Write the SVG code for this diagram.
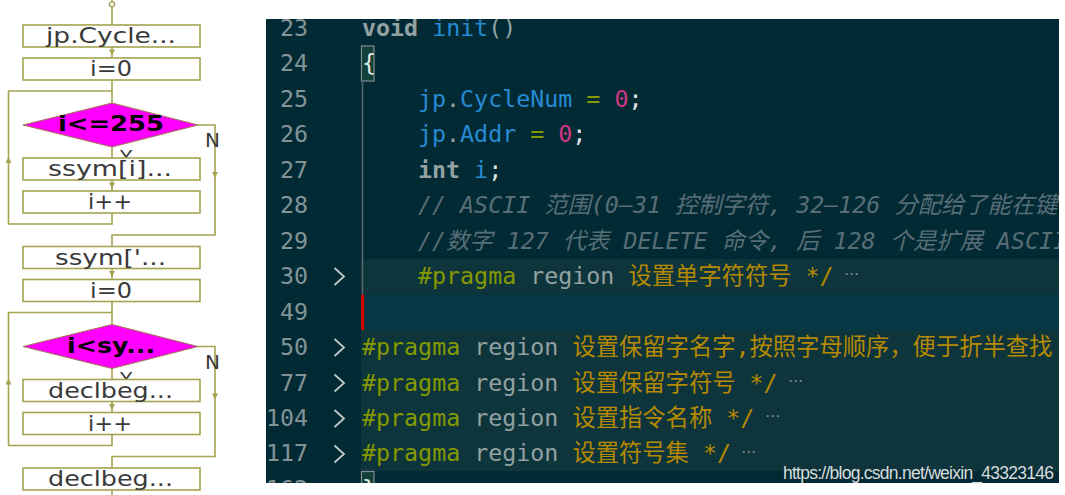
<svg xmlns="http://www.w3.org/2000/svg" width="1065" height="495" viewBox="0 0 1065 495">
<style>
.ln{fill:none;stroke:#a3a352;stroke-width:1.6}
.ah{fill:#a3a352}
.bx{fill:#fff;stroke:#a3a352;stroke-width:1.6}
.dm{fill:#ff00ff;stroke:#a07850;stroke-width:1}
.bt{font-family:"DejaVu Sans",sans-serif;font-size:21px;fill:#3a3a3a;text-anchor:middle}
.dt{font-family:"DejaVu Sans",sans-serif;font-size:22px;font-weight:bold;fill:#000;text-anchor:middle}
.yn{font-family:"DejaVu Sans",sans-serif;font-size:20px;fill:#3a3a3a}
.code{font-family:"DejaVu Sans Mono","Noto Sans CJK SC",monospace;font-size:23.3px;fill:#93a1a1}
.num{font-family:"DejaVu Sans Mono",monospace;font-size:23.3px;fill:#839496;text-anchor:end}
.cm{fill:#586e75;font-style:italic}
.kw{font-weight:bold;fill:#93a1a1}
.id{fill:#268bd2}
.op{fill:#859900}
.nm{fill:#d33682}
.pr{fill:#859900}
.st{fill:#b58900}
.fold{font-family:"DejaVu Sans",sans-serif;font-size:15px;fill:#8a9a9a;text-anchor:middle}
.chev{fill:none;stroke:#c0c8c8;stroke-width:1.8}
</style>
<defs>
<path id="ahd" d="M-3,-3 L3,-3 L0,3 Z"/>
<path id="ahu" d="M-3,3 L3,3 L0,-3 Z"/>
<clipPath id="ed"><rect x="266" y="19" width="793" height="464"/></clipPath>
</defs>
<rect width="1065" height="495" fill="#fff"/>

<!-- flowchart connectors -->
<g id="connectors">
<path class="ln" d="M112,0 V2"/>
<path class="ln" d="M112,6.5 V25"/>
<path class="ln" d="M112,47 V58"/>
<path class="ln" d="M112,80 V103"/>
<path class="ln" d="M112,147 V158"/>
<path class="ln" d="M112,180 V191"/>
<path class="ln" d="M112,213 V224 H8.5 V91 H112"/>
<path class="ln" d="M198,125 H215 V235 H112 V246.5"/>
<path class="ln" d="M112,268.5 V279.5"/>
<path class="ln" d="M112,301.5 V324.5"/>
<path class="ln" d="M112,368.5 V379.5"/>
<path class="ln" d="M112,401.5 V412.5"/>
<path class="ln" d="M112,434.5 V445.5 H8.5 V312.5 H112"/>
<path class="ln" d="M198,346.5 H215 V456.5 H112 V468"/>
<path class="ln" d="M112,490 V495"/>
<use href="#ahd" class="ah" x="112" y="52.5"/>
<use href="#ahd" class="ah" x="112" y="185.5"/>
<use href="#ahu" class="ah" x="8.5" y="160"/>
<use href="#ahd" class="ah" x="215" y="175"/>
<use href="#ahd" class="ah" x="112" y="274"/>
<use href="#ahd" class="ah" x="112" y="407"/>
<use href="#ahu" class="ah" x="8.5" y="381.5"/>
<use href="#ahd" class="ah" x="215" y="396.5"/>
<text class="yn" x="120" y="164" font-size="17">Y</text>
<text class="yn" x="205" y="147">N</text>
<text class="yn" x="120" y="385.5" font-size="17">Y</text>
<text class="yn" x="205" y="368.5">N</text>
</g>

<g id="start"><circle cx="112" cy="4.2" r="2.6" fill="#fff" stroke="#a3a352" stroke-width="1.3"/></g>
<g id="n1"><rect class="bx" x="23" y="25" width="177" height="22"/><text class="bt" x="111" y="43" textLength="130" lengthAdjust="spacingAndGlyphs">jp.Cycle...</text></g>
<g id="n2"><rect class="bx" x="23" y="58" width="177" height="22"/><text class="bt" x="111" y="76" textLength="42" lengthAdjust="spacingAndGlyphs">i=0</text></g>
<g id="d1"><polygon class="dm" points="23,125 112,103 198,125 112,147"/><text class="dt" x="111" y="131" textLength="106" lengthAdjust="spacingAndGlyphs">i&lt;=255</text></g>
<g id="n3"><rect class="bx" x="23" y="158" width="177" height="22"/><text class="bt" x="110" y="176" textLength="124" lengthAdjust="spacingAndGlyphs">ssym[i]...</text></g>
<g id="n4"><rect class="bx" x="23" y="191" width="177" height="22"/><text class="bt" x="110" y="209" textLength="44" lengthAdjust="spacingAndGlyphs">i++</text></g>
<g id="n5"><rect class="bx" x="23" y="246.5" width="177" height="22"/><text class="bt" x="110.5" y="264.5" textLength="111" lengthAdjust="spacingAndGlyphs">ssym['...</text></g>
<g id="n6"><rect class="bx" x="23" y="279.5" width="177" height="22"/><text class="bt" x="111" y="297.5" textLength="42" lengthAdjust="spacingAndGlyphs">i=0</text></g>
<g id="d2"><polygon class="dm" points="23,346.5 112,324.5 198,346.5 112,368.5"/><text class="dt" x="111" y="352.5" textLength="88" lengthAdjust="spacingAndGlyphs">i&lt;sy...</text></g>
<g id="n7"><rect class="bx" x="23" y="379.5" width="177" height="22"/><text class="bt" x="110.5" y="397.5" textLength="125" lengthAdjust="spacingAndGlyphs">declbeg...</text></g>
<g id="n8"><rect class="bx" x="23" y="412.5" width="177" height="22"/><text class="bt" x="110" y="430.5" textLength="44" lengthAdjust="spacingAndGlyphs">i++</text></g>
<g id="n9"><rect class="bx" x="23" y="468" width="177" height="22"/><text class="bt" x="110.5" y="486" textLength="125" lengthAdjust="spacingAndGlyphs">declbeg...</text></g>

<!-- code editor screenshot -->
<g id="editor" clip-path="url(#ed)">
<rect x="266" y="19" width="793" height="464" fill="#022a35"/>
<rect x="361" y="259.2" width="698" height="35.4" fill="#0e353c"/>
<rect x="361" y="294.6" width="698" height="35.4" fill="#053745"/>
<rect x="361" y="330" width="698" height="141" fill="#0e353c"/>
<rect x="361" y="294.6" width="3.2" height="35.4" fill="#d40000"/>
<line x1="362.5" y1="82" x2="362.5" y2="294.6" stroke="#5a6a6a" stroke-width="1.5"/>
<rect x="361.5" y="46" width="12.5" height="35" fill="#123f3a" stroke="#7f8f8f" stroke-width="1.2"/>
<rect x="361.5" y="471.5" width="12.5" height="35" fill="#123f3a" stroke="#7f8f8f" stroke-width="1.2"/>

<g class="num">
<text x="308" y="36">23</text>
<text x="308" y="71.45">24</text>
<text x="308" y="106.9">25</text>
<text x="308" y="142.35">26</text>
<text x="308" y="177.8">27</text>
<text x="308" y="213.25">28</text>
<text x="308" y="248.7">29</text>
<text x="308" y="284.15">30</text>
<text x="308" y="319.6">49</text>
<text x="308" y="355.05">50</text>
<text x="308" y="390.5">77</text>
<text x="308" y="425.95">104</text>
<text x="308" y="461.4">117</text>
<text x="308" y="496.85">162</text>
</g>

<path class="chev" d="M334.5,268 L344,276.5 L334.5,285"/>
<path class="chev" d="M334.5,339 L344,347.5 L334.5,356"/>
<path class="chev" d="M334.5,374.5 L344,383 L334.5,391.5"/>
<path class="chev" d="M334.5,410 L344,418.5 L334.5,427"/>
<path class="chev" d="M334.5,445.5 L344,454 L334.5,462.5"/>

<g class="code" xml:space="preserve">
<text x="362" y="36"><tspan class="kw">void</tspan> <tspan class="id">init</tspan>()</text>
<text x="362" y="71.45" fill="#dfe5e5">{</text>
<text x="418" y="106.9"><tspan class="id">jp</tspan>.<tspan class="id">CycleNum</tspan> <tspan class="op">=</tspan> <tspan class="nm">0</tspan><tspan fill="#dfe5e5">;</tspan></text>
<text x="418" y="142.35"><tspan class="id">jp</tspan>.<tspan class="id">Addr</tspan> <tspan class="op">=</tspan> <tspan class="nm">0</tspan><tspan fill="#dfe5e5">;</tspan></text>
<text x="418" y="177.8"><tspan class="kw">int</tspan> <tspan class="id">i</tspan><tspan fill="#dfe5e5">;</tspan></text>
<text x="418" y="213.25" class="cm">// ASCII 范围(0–31 控制字符, 32–126 分配给了能在键</text>
<text x="418" y="248.7" class="cm">//数字 127 代表 DELETE 命令, 后 128 个是扩展 ASCII</text>
<text x="418" y="284.15"><tspan class="pr">#pragma</tspan> region <tspan class="st">设置单字符符号 */</tspan></text>
<text x="362" y="355.05"><tspan class="pr">#pragma</tspan> region <tspan class="st">设置保留字名字,按照字母顺序，便于折半查找</tspan></text>
<text x="362" y="390.5"><tspan class="pr">#pragma</tspan> region <tspan class="st">设置保留字符号 */</tspan></text>
<text x="362" y="425.95"><tspan class="pr">#pragma</tspan> region <tspan class="st">设置指令名称 */</tspan></text>
<text x="362" y="461.4"><tspan class="pr">#pragma</tspan> region <tspan class="st">设置符号集 */</tspan></text>
<text x="362" y="496.85" fill="#dfe5e5">}</text>
</g>
<text class="fold" x="851.5" y="279">⋯</text>
<text class="fold" x="795.5" y="385.5">⋯</text>
<text class="fold" x="772.5" y="421">⋯</text>
<text class="fold" x="748.5" y="456.5">⋯</text>
</g>
<text id="watermark" x="1054" y="479" text-anchor="end" font-family="Liberation Sans, Arial, sans-serif" font-size="17.5" fill="#d8dcdc" textLength="271">https://blog.csdn.net/weixin_43323146</text>
</svg>
